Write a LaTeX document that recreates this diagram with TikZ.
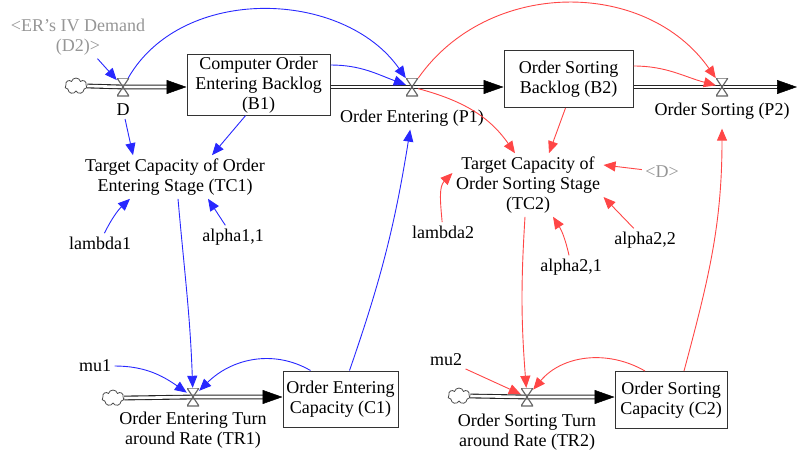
\documentclass[tikz,border=0pt]{standalone}
\usepackage{fontspec}
\setmainfont{Liberation Serif}
\usetikzlibrary{arrows.meta,positioning,shapes.symbols,backgrounds}

\definecolor{linkblue}{RGB}{40,40,255}
\definecolor{linkred}{RGB}{255,70,70}
\definecolor{shadowgray}{RGB}{150,150,150}

\tikzset{
  stock/.style={draw=black!80, line width=1pt, align=center, inner sep=2pt},
  valve/.style={minimum width=12pt, minimum height=18pt, inner sep=0pt,
    path picture={\draw[black!60, line width=1.2pt]
      (path picture bounding box.north west) -- (path picture bounding box.south east)
      -- (path picture bounding box.south west) -- (path picture bounding box.north east) -- cycle;}},
  source/.style={cloud, cloud puffs=7, draw=black!70, line width=0.8pt,
    minimum width=22pt, minimum height=16pt, inner sep=0pt},
  aux/.style={align=center},
  shadow/.style={align=center, text=shadowgray},
  pipe/.style={draw=black!85, line width=1.1pt, double=white, double distance=2.6pt, shorten >=15pt},
  pipehead/.style={-{Triangle[length=20pt,width=14pt]}, black, line width=0.5pt},
  bluelink/.style={-{Triangle[length=12pt,width=10pt]}, linkblue, line width=0.9pt},
  redlink/.style={-{Triangle[length=12pt,width=10pt]}, linkred, line width=0.9pt},
}

\begin{document}
\begin{tikzpicture}[x=1pt, y=-1pt, font=\fontsize{18}{20}\selectfont]
  \useasboundingbox (0,0) rectangle (797,452);

  % Define nodes

  % stocks and flows, top row
  \node[source] (src1) at (76,86) {};
  \node[valve] (vD) at (123,87) {};
  \node[below=4pt of vD] (Dlab) {D};
  \node[stock, minimum width=143pt, minimum height=57pt] (B1) at (258.5,85) {Computer Order\\Entering Backlog\\(B1)};
  \node[valve] (vP1) at (412,87) {};
  \node[below=10pt of vP1] (P1lab) {Order Entering (P1)};
  \node[stock, minimum width=129pt, minimum height=57pt] (B2) at (568.5,79) {Order Sorting\\Backlog (B2)};
  \node[valve] (vP2) at (722,87) {};
  \node[below=3pt of vP2] (P2lab) {Order Sorting (P2)};
  \coordinate (sink) at (797,87);

  % auxiliaries
  \node[shadow] (D2) at (78,37) {<ER's IV Demand\\(D2)>};
  \node[aux] (TC1) at (175,177) {Target Capacity of Order\\Entering Stage (TC1)};
  \node (lambda1) at (100,243) {lambda1};
  \node (alpha11) at (233,237) {alpha1,1};
  \node[aux] (TC2) at (528,185) {Target Capacity of\\Order Sorting Stage\\(TC2)};
  \node[shadow] (Dref) at (662,172) {<D>};
  \node (lambda2) at (443,232) {lambda2};
  \node (alpha21) at (571,267) {alpha2,1};
  \node (alpha22) at (645,240) {alpha2,2};

  % stocks and flows, bottom row
  \node (mu1) at (95,366) {mu1};
  \node[source] (src2) at (113,398) {};
  \node[valve] (vTR1) at (193,397) {};
  \node[below=2pt of vTR1, aux] (TR1lab) {Order Entering Turn\\around Rate (TR1)};
  \node[stock, minimum width=115pt, minimum height=56pt] (C1) at (340.5,399) {Order Entering\\Capacity (C1)};
  \node (mu2) at (446,360) {mu2};
  \node[source] (src3) at (459,396) {};
  \node[valve] (vTR2) at (527,397) {};
  \node[below=4pt of vTR2, aux] (TR2lab) {Order Sorting Turn\\around Rate (TR2)};
  \node[stock, minimum width=112pt, minimum height=57pt] (C2) at (671,400) {Order Sorting\\Capacity (C2)};

  \coordinate (B1in) at (B1.west |- vD);
  \coordinate (B2in) at (B2.west |- vP1);
  \coordinate (C1in) at (C1.west |- vTR1);
  \coordinate (C2in) at (C2.west |- vTR2);

  % Pipes
  \begin{scope}[on background layer]
    \draw[pipe] (src1.east) -- (vD.center) -- (B1in);
    \draw[pipehead] ([xshift=-20pt]B1in) -- (B1in);
    \draw[pipe] (B1.east |- vD) -- (vP1.center) -- (B2in);
    \draw[pipehead] ([xshift=-20pt]B2in) -- (B2in);
    \draw[pipe] (B2.east |- vP2) -- (vP2.center) -- (sink);
    \draw[pipehead] ([xshift=-18pt]sink) -- (sink);
    \draw[pipe] (src2.east) -- (vTR1.center) -- (C1in);
    \draw[pipehead] ([xshift=-20pt]C1in) -- (C1in);
    \draw[pipe] (src3.east) -- (vTR2.center) -- (C2in);
    \draw[pipehead] ([xshift=-20pt]C2in) -- (C2in);
  \end{scope}

  % Connect the nodes
  \draw[bluelink] (D2) -- (vD);
  \draw[bluelink] (vD) to[out=60, in=125] (vP1);
  \draw[bluelink] ([yshift=20pt]B1.east) to[out=0, in=160] (vP1);
  \draw[bluelink] (Dlab) -- ([xshift=-42pt]TC1.north);
  \draw[bluelink] ([xshift=-13pt]B1.south) -- ([xshift=37pt]TC1.north);
  \draw[bluelink] (lambda1) to[bend left=10] ([xshift=-45pt]TC1.south);
  \draw[bluelink] (alpha11) -- ([xshift=33pt]TC1.south);
  \draw[bluelink] ([xshift=3pt]TC1.south) to[out=-85, in=92] (vTR1);
  \draw[bluelink] (mu1) to[out=0, in=145] (vTR1);
  \draw[bluelink] ([xshift=-30pt]C1.north) to[out=150, in=45] (vTR1);
  \draw[bluelink] ([xshift=9pt]C1.north) to[bend right=5] (P1lab);

  \draw[redlink] (vP1) to[out=55, in=125, looseness=1.05] (vP2);
  \draw[redlink] ([yshift=13pt]B2.east) to[out=0, in=165] (vP2);
  \draw[redlink] (vP1) to[out=-15, in=125] ([xshift=-13pt]TC2.north);
  \draw[redlink] ([xshift=-3pt]B2.south) -- ([xshift=21pt]TC2.north);
  \draw[redlink] (Dref) -- ([yshift=20pt]TC2.east);
  \draw[redlink] (lambda2) to[out=95, in=225] ([yshift=12pt]TC2.west);
  \draw[redlink] (alpha21) to[bend right=10] ([xshift=25pt]TC2.south);
  \draw[redlink] (alpha22) -- ([yshift=-12pt]TC2.east);
  \draw[redlink] ([xshift=-3pt]TC2.south) to[bend right=4] (vTR2);
  \draw[redlink] (mu2) -- (vTR2);
  \draw[redlink] ([xshift=-26pt]C2.north) to[out=150, in=50] (vTR2);
  \draw[redlink] ([xshift=13pt]C2.north) to[out=75, in=-90] ([yshift=-6pt]P2lab.south);

\end{tikzpicture}
\end{document}
